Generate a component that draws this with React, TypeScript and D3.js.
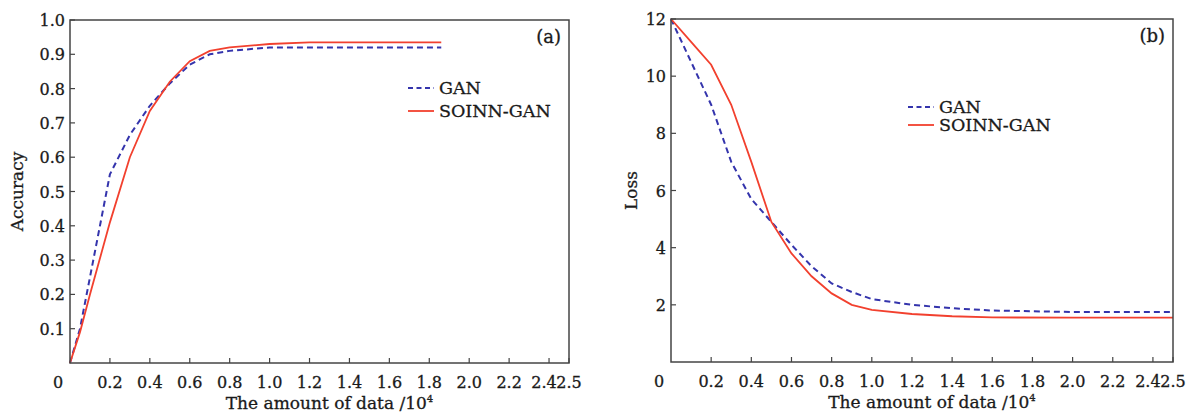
import React from "react";
import * as d3 from "d3";

// x values (amount of data, x10^4)
const accX = [0, 0.05, 0.1, 0.2, 0.3, 0.4, 0.5, 0.6, 0.7, 0.8, 1.0, 1.2, 1.86];
const accGan = [0, 0.1, 0.25, 0.55, 0.665, 0.75, 0.815, 0.87, 0.9, 0.91, 0.92, 0.92, 0.92];
const accSoinn = [0, 0.09, 0.2, 0.41, 0.6, 0.735, 0.82, 0.88, 0.91, 0.92, 0.93, 0.935, 0.935];

const lossX = [0, 0.1, 0.2, 0.3, 0.4, 0.5, 0.6, 0.7, 0.8, 0.9, 1.0, 1.2, 1.4, 1.6, 2.0, 2.5];
const lossGan = [12, 10.5, 9.0, 7.0, 5.7, 4.9, 4.1, 3.35, 2.75, 2.45, 2.2, 2.0, 1.88, 1.8, 1.75, 1.75];
const lossSoinn = [12, 11.2, 10.4, 9.0, 7.0, 4.9, 3.8, 3.0, 2.4, 2.0, 1.82, 1.68, 1.6, 1.56, 1.55, 1.55];

const xTicks = [0.2, 0.4, 0.6, 0.8, 1.0, 1.2, 1.4, 1.6, 1.8, 2.0, 2.2, 2.4, 2.5];
const accTicks = [0.1, 0.2, 0.3, 0.4, 0.5, 0.6, 0.7, 0.8, 0.9, 1.0];
const lossTicks = [2, 4, 6, 8, 10, 12];
const seriesNames = ["GAN", "SOINN-GAN"];

const FONT = "'DejaVu Serif', serif";
const BLUE = "#3434ac";
const RED = "#f2402e";
const AXIS = "#444";

type PanelProps = {
  left: number;
  right: number;
  top: number;
  bottom: number;
  xs: number[];
  gan: number[];
  soinn: number[];
  yMax: number;
  yTicks: number[];
  yFmt: (v: number) => string;
  yTitle: string;
  yTitleX: number;
  tag: string;
  legendX: number;
  legendY: number;
  legendGap: number;
};

function Panel(p: PanelProps) {
  const x = d3.scaleLinear().domain([0, 2.5]).range([p.left, p.right]);
  const y = d3.scaleLinear().domain([0, p.yMax]).range([p.bottom, p.top]);
  const line = d3
    .line<number>()
    .x((_, i) => x(p.xs[i]))
    .y((d) => y(d));
  const cx = (p.left + p.right) / 2;
  const cy = (p.top + p.bottom) / 2;
  // small nudges so "2.4" and "2.5" sit side by side as in the print
  const nudge = (t: number) => (t === 2.4 ? -5 : 0);
  return (
    <g fontFamily={FONT} fill="#1a1a1a" stroke="#1a1a1a" strokeWidth={0.3}>
      <path d={line(p.gan) || ""} fill="none" stroke={BLUE} strokeWidth={2} strokeDasharray="6,4" />
      <path d={line(p.soinn) || ""} fill="none" stroke={RED} strokeWidth={1.8} />
      {/* frame */}
      <rect x={p.left} y={p.top} width={p.right - p.left} height={p.bottom - p.top} fill="none" stroke={AXIS} strokeWidth={1.5} />
      {/* x ticks */}
      {xTicks.map((t) => (
        <g key={"x" + t}>
          <line x1={x(t)} x2={x(t)} y1={p.bottom} y2={p.bottom - 5} stroke={AXIS} strokeWidth={1.2} />
          <text x={x(t) + nudge(t)} y={p.bottom + 25} textAnchor="middle" fontSize={16}>
            {t.toFixed(1)}
          </text>
        </g>
      ))}
      <text x={x(0) - 12} y={p.bottom + 25} textAnchor="middle" fontSize={16}>0</text>
      {/* y ticks */}
      {p.yTicks.map((t) => (
        <g key={"y" + t}>
          <line x1={p.left} x2={p.left + 5} y1={y(t)} y2={y(t)} stroke={AXIS} strokeWidth={1.2} />
          <text x={p.left - 5} y={y(t) + 6} textAnchor="end" fontSize={16}>
            {p.yFmt(t)}
          </text>
        </g>
      ))}
      <text x={cx + 10} y={p.bottom + 46} textAnchor="middle" fontSize={17}>
        The amount of data /10<tspan dy={-7} fontSize={10}>4</tspan>
      </text>
      <text transform={`translate(${p.yTitleX},${cy}) rotate(-90)`} textAnchor="middle" fontSize={17}>
        {p.yTitle}
      </text>
      <text x={p.right - 8} y={p.top + 23} textAnchor="end" fontSize={18}>{p.tag}</text>
      {/* legend */}
      {seriesNames.map((name, i) => (
        <g key={name}>
          <line
            x1={p.legendX}
            x2={p.legendX + 26}
            y1={p.legendY + i * p.legendGap}
            y2={p.legendY + i * p.legendGap}
            stroke={i === 0 ? BLUE : RED}
            strokeWidth={i === 0 ? 2 : 1.8}
            strokeDasharray={i === 0 ? "5,3.5" : undefined}
          />
          <text x={p.legendX + 31} y={p.legendY + i * p.legendGap + 6} fontSize={17.5}>
            {name}
          </text>
        </g>
      ))}
    </g>
  );
}

export default function App() {
  return (
    <svg width={1194} height={412} style={{ display: "block", position: "absolute", left: 0, top: 0 }}>
      <rect width={1194} height={412} fill="#fff" />
      <Panel
        left={70}
        right={569}
        top={20}
        bottom={363}
        xs={accX}
        gan={accGan}
        soinn={accSoinn}
        yMax={1}
        yTicks={accTicks}
        yFmt={(v) => v.toFixed(1)}
        yTitle="Accuracy"
        yTitleX={23}
        tag="(a)"
        legendX={408}
        legendY={88}
        legendGap={23}
      />
      <Panel
        left={671}
        right={1173}
        top={19}
        bottom={362}
        xs={lossX}
        gan={lossGan}
        soinn={lossSoinn}
        yMax={12}
        yTicks={lossTicks}
        yFmt={(v) => String(v)}
        yTitle="Loss"
        yTitleX={637}
        tag="(b)"
        legendX={908}
        legendY={107}
        legendGap={18}
      />
    </svg>
  );
}
